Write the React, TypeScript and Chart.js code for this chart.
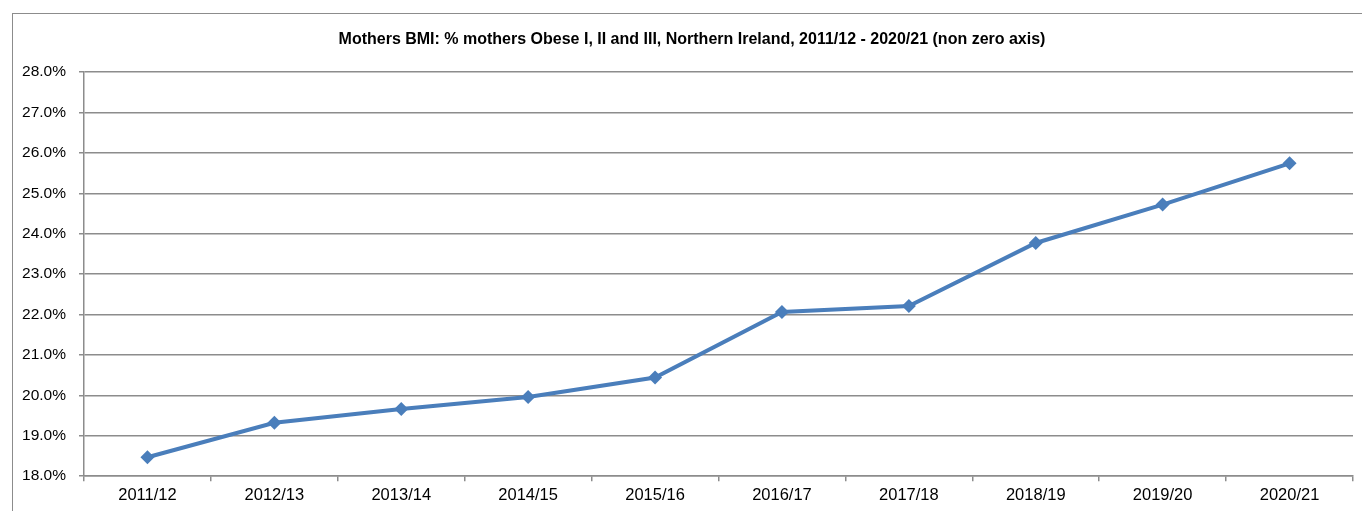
import React, { useEffect, useRef } from "react";
import { Chart, registerables } from "chart.js";

Chart.register(...registerables);

const categories = ["2011/12", "2012/13", "2013/14", "2014/15", "2015/16", "2016/17", "2017/18", "2018/19", "2019/20", "2020/21"];
const obesePct = [18.47, 19.32, 19.66, 19.96, 20.44, 22.06, 22.21, 23.77, 24.72, 25.74];
const yMin = 18;
const yMax = 28;
const yStep = 1;
const titleText = "Mothers BMI: % mothers Obese I, II and III, Northern Ireland, 2011/12 - 2020/21 (non zero axis)";

const FONT = "'Liberation Sans', Arial, sans-serif";

const titlePlugin = {
  id: "customTitle",
  afterDraw(chart: any) {
    const ctx = chart.ctx;
    ctx.save();
    ctx.fillStyle = "#000";
    ctx.font = `bold 16px ${FONT}`;
    ctx.textAlign = "center";
    ctx.textBaseline = "middle";
    ctx.fillText(titleText, 692, 40);
    ctx.restore();
  },
};

export default function App() {
  const ref = useRef<HTMLCanvasElement | null>(null);

  useEffect(() => {
    document.body.style.margin = "0";
    const canvas = ref.current;
    if (!canvas) return;
    const chart = new Chart(canvas, {
      type: "line",
      data: {
        labels: categories,
        datasets: [
          {
            data: obesePct,
            borderColor: "#4A7EBB",
            backgroundColor: "#4A7EBB",
            borderWidth: 4,
            pointStyle: "rectRot",
            pointRadius: 7,
            pointHoverRadius: 7,
            pointBorderWidth: 0,
            tension: 0,
          },
        ],
      },
      options: {
        responsive: false,
        animation: false,
        layout: { padding: { top: 72, left: 16, right: 9, bottom: 2 } },
        plugins: {
          legend: { display: false },
          tooltip: { enabled: false },
          title: { display: false },
        },
        scales: {
          x: {
            offset: true,
            grid: {
              offset: true,
              drawOnChartArea: false,
              drawTicks: true,
              tickLength: 5,
              color: "#8c8c8c",
              lineWidth: 1.5,
            },
            border: { display: true, color: "#8c8c8c", width: 1.5 },
            ticks: {
              color: "#000",
              font: { family: FONT, size: 16.5 },
              padding: 4,
              maxRotation: 0,
              autoSkip: false,
            },
          },
          y: {
            min: yMin,
            max: yMax,
            afterFit: (scale: any) => {
              scale.width = 68;
            },
            grid: {
              color: "#8c8c8c",
              lineWidth: 1.5,
              drawTicks: true,
              tickLength: 5,
            },
            border: { display: true, color: "#8c8c8c", width: 1.5 },
            ticks: {
              stepSize: yStep,
              color: "#000",
              font: { family: FONT, size: 15.5 },
              padding: 13,
              callback: (v: any) => Number(v).toFixed(1) + "%",
            },
          },
        },
      },
      plugins: [titlePlugin],
    });
    return () => chart.destroy();
  }, []);

  return (
    <div style={{ position: "fixed", left: 0, top: 0, width: 1362, height: 511, background: "#fff", overflow: "hidden" }}>
      <div
        style={{
          position: "absolute",
          left: 12,
          top: 13,
          width: 1400,
          height: 600,
          border: "1.5px solid #8c8c8c",
          boxSizing: "border-box",
        }}
      />
      <canvas ref={ref} width={1362} height={511} style={{ position: "absolute", left: 0, top: 0 }} />
    </div>
  );
}
